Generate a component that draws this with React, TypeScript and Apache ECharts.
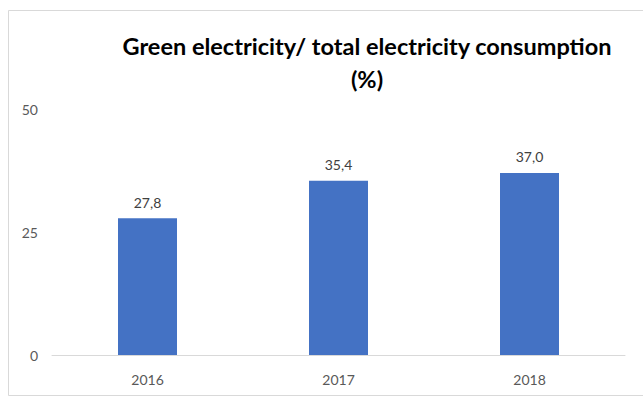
import React, { useEffect, useRef } from "react";
import * as echarts from "echarts";

const categories = ["2016", "2017", "2018"];
const values = [27.8, 35.4, 37.0];
const yTicks = [0, 25, 50];
const titleLines = ["Green electricity/ total electricity consumption", "(%)"];

export default function App() {
  const ref = useRef<HTMLDivElement>(null);
  useEffect(() => {
    const chart = echarts.init(ref.current!, null, { renderer: "svg" });
    const font = "Lato, 'Open Sans', sans-serif";
    chart.setOption({
      animation: false,
      backgroundColor: "#ffffff",
      graphic: [
        {
          type: "rect",
          shape: { x: 8.5, y: 10.5, width: 700, height: 385 },
          style: { fill: "none", stroke: "#d9d9d9", lineWidth: 1 },
          silent: true,
        },
        {
          type: "text",
          x: 367,
          y: 29,
          style: {
            text: titleLines.join("\n"),
            fontFamily: font,
            fontWeight: "bold",
            fontSize: 23.5,
            lineHeight: 33,
            fill: "#000000",
            align: "center",
            verticalAlign: "top",
          },
        },
      ],
      grid: { left: 52, right: 18, top: 109, bottom: 42 },
      xAxis: {
        type: "category",
        data: categories,
        axisLine: { lineStyle: { color: "#d9d9d9", width: 1 } },
        axisTick: { show: false },
        axisLabel: { color: "#595959", fontSize: 14, fontFamily: font, margin: 17 },
      },
      yAxis: {
        type: "value",
        min: yTicks[0],
        max: yTicks[yTicks.length - 1],
        interval: 25,
        splitLine: { show: false },
        axisLine: { show: false },
        axisTick: { show: false },
        axisLabel: { color: "#595959", fontSize: 14, fontFamily: font, margin: 14 },
      },
      series: [
        {
          type: "bar",
          data: values,
          barWidth: 59,
          itemStyle: { color: "#4472c4" },
          label: {
            show: true,
            position: "top",
            distance: 9,
            color: "#404040",
            fontSize: 14,
            fontFamily: font,
            formatter: (p: any) => p.value.toFixed(1).replace(".", ","),
          },
        },
      ],
    });
    return () => chart.dispose();
  }, []);
  return (
    <div
      ref={ref}
      style={{ position: "absolute", left: 0, top: 0, width: 643, height: 397 }}
    />
  );
}
